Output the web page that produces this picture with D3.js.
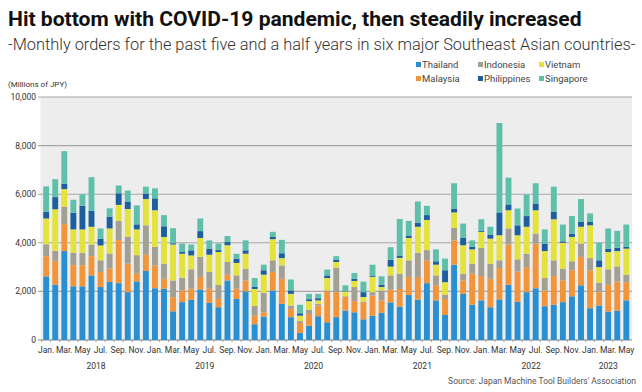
<!DOCTYPE html>
<html><head><meta charset="utf-8">
<script src="https://cdn.jsdelivr.net/npm/d3@7"></script>
<style>
html,body{margin:0;padding:0;background:#fff;}
svg{display:block;font-family:Roboto,"Noto Sans",sans-serif;}
</style></head><body>
<svg id="chart" width="642" height="392"></svg>
<script>
// ---- data (millions of JPY) ----
const categories = [
 "2018-01","2018-02","2018-03","2018-04","2018-05","2018-06","2018-07","2018-08","2018-09","2018-10","2018-11","2018-12",
 "2019-01","2019-02","2019-03","2019-04","2019-05","2019-06","2019-07","2019-08","2019-09","2019-10","2019-11","2019-12",
 "2020-01","2020-02","2020-03","2020-04","2020-05","2020-06","2020-07","2020-08","2020-09","2020-10","2020-11","2020-12",
 "2021-01","2021-02","2021-03","2021-04","2021-05","2021-06","2021-07","2021-08","2021-09","2021-10","2021-11","2021-12",
 "2022-01","2022-02","2022-03","2022-04","2022-05","2022-06","2022-07","2022-08","2022-09","2022-10","2022-11","2022-12",
 "2023-01","2023-02","2023-03","2023-04","2023-05"];
const thailand = [2620,2280,3660,2210,2210,2660,2180,2390,2340,1970,2410,2840, 2130,2110,1180,1560,1650,2080,1530,1350,2450,1690,2000,650, 960,2040,1490,940,290,590,980,730,940,1210,1140,850, 1000,1120,1550,1370,1850,1660,2340,1630,1030,3100,1900,1450, 1630,1350,1670,2270,1580,1970,2130,1390,1450,1560,1800,2250, 1310,1420,1170,1210,1630];
const malaysia = [830,980,1110,870,870,790,620,550,1770,1170,320,670, 940,410,580,480,460,510,580,340,240,420,450,350, 180,760,1030,340,410,480,440,1270,1030,560,460,710, 830,510,520,730,740,930,940,620,660,1000,550,1280, 1000,1170,1290,1660,1240,1030,1840,650,1180,890,1070,1170, 1560,550,1100,1200,750];
const indonesia = [490,410,720,510,510,480,480,620,790,1110,760,1210, 760,620,690,520,800,830,690,580,520,550,480,400, 800,480,550,140,80,180,70,40,1010,30,580,20, 140,410,590,630,690,1000,420,410,170,510,280,410, 1160,620,320,660,500,550,410,510,650,480,370,550, 500,390,640,620,310];
const vietnam = [1060,1710,720,960,960,730,610,1030,660,1140,1060,1080, 1510,1100,1480,990,570,780,710,1350,690,510,620,700, 750,870,300,480,220,350,140,510,230,200,250,190, 630,140,360,650,920,1070,1240,440,520,640,1170,590, 660,1030,1030,750,990,1110,960,1110,1690,1070,1000,690, 1350,640,710,630,1070];
const philippines = [280,500,220,690,970,650,280,490,480,310,210,230, 490,440,50,70,210,280,250,80,130,180,140,100, 180,90,200,140,100,80,90,110,100,20,90,200, 50,90,280,100,100,170,200,140,490,160,300,100, 50,170,940,240,410,440,280,310,310,60,140,200, 140,280,140,140,70];
const singapore = [1040,740,1340,530,480,1390,420,340,320,450,780,280, 410,460,620,350,240,520,340,270,250,200,410,350, 230,210,550,450,350,220,180,240,140,230,240,430, 450,350,520,1500,600,870,380,490,480,1040,590,270, 470,320,3680,1100,690,890,830,580,1030,690,720,940, 350,720,830,690,920];
const seriesNames = ["Thailand","Malaysia","Indonesia","Vietnam","Philippines","Singapore"];
const seriesColors = ["#2a8fd0","#f2943a","#a29f93","#e4e23c","#1c5e9e","#5ebfab"];
const monthNames = ["Jan.","Feb.","Mar.","Apr.","May","Jun.","Jul.","Aug.","Sep.","Oct.","Nov.","Dec."];
const yearLabels = ["2018","2019","2020","2021","2022","2023"];
const yTicks = [0,2000,4000,6000,8000,10000];

// ---- build table ----
const cols = [thailand, malaysia, indonesia, vietnam, philippines, singapore];
const table = categories.map((c,i)=>{
  const row = {cat:c};
  seriesNames.forEach((s,k)=>row[s]=cols[k][i]);
  return row;
});
const stacked = d3.stack().keys(seriesNames)(table);

const svg = d3.select("#chart");
const L=40.5, R=632, T=97, B=340;
const x = d3.scaleBand().domain(categories).range([L,R]).paddingInner(0.35).paddingOuter(0.3);
const y = d3.scaleLinear().domain([0,10000]).range([B,T]);

function fit(sel,w){const cur=sel.node().getComputedTextLength();const fs=parseFloat(sel.attr("font-size"));sel.attr("font-size",fs*w/cur);}

// title
const t1 = svg.append("text").attr("x",8).attr("y",26).attr("font-size",21).attr("font-weight",700).attr("fill","#111").text("Hit bottom with COVID-19 pandemic, then steadily increased");
fit(t1,574);
const t2 = svg.append("text").attr("x",8).attr("y",50).attr("font-size",16).attr("font-weight",300).attr("fill","#333").text("-Monthly orders for the past five and a half years in six major Southeast Asian countries-");
fit(t2,628);

// legend
const legCols=[416,478,539], legRows=[65,79];
const legOrder=[["Thailand",0,0],["Indonesia",1,0],["Vietnam",2,0],["Malaysia",0,1],["Philippines",1,1],["Singapore",2,1]];
legOrder.forEach(([name,c,r])=>{
  const k=seriesNames.indexOf(name);
  svg.append("rect").attr("x",legCols[c]).attr("y",legRows[r]-3).attr("width",5).attr("height",5).attr("fill",seriesColors[k]);
  svg.append("text").attr("x",legCols[c]+6).attr("y",legRows[r]+3.3).attr("font-size",9.5).attr("fill","#444").text(name);
});
svg.append("text").attr("x",8).attr("y",87).attr("font-size",8).attr("fill","#333").text("(Millions of JPY)");

// plot background
svg.append("rect").attr("x",L).attr("y",T).attr("width",R-L).attr("height",B-T).attr("fill","#ededed");
// gridlines
svg.append("g").selectAll("line").data(yTicks).join("line")
  .attr("x1",38).attr("x2",R).attr("y1",d=>y(d)).attr("y2",d=>y(d))
  .attr("stroke",d=>d===0?"#888":"#a8a8a8").attr("stroke-width",1.1);
svg.append("g").selectAll("text").data(yTicks).join("text")
  .attr("x",36).attr("y",d=>y(d)+3).attr("text-anchor","end").attr("font-size",8.5).attr("fill","#333")
  .text(d=>d3.format(",")(d));

// bars
svg.append("g").selectAll("g").data(stacked).join("g").attr("fill",(d,i)=>seriesColors[i])
  .selectAll("rect").data(d=>d).join("rect")
  .attr("x",d=>x(d.data.cat)).attr("width",x.bandwidth())
  .attr("y",d=>y(d[1])).attr("height",d=>Math.max(0,y(d[0])-y(d[1])));

// x ticks
const step=x.step();
svg.append("g").selectAll("line").data(categories).join("line")
  .attr("x1",d=>x(d)-step*0.175).attr("x2",d=>x(d)-step*0.175)
  .attr("y1",B).attr("y2",B+2).attr("stroke","#888").attr("stroke-width",0.8);
svg.append("g").selectAll("text").data(categories.filter((c,i)=>(+c.slice(5))%2===1)).join("text")
  .attr("x",d=>x(d)+x.bandwidth()/2).attr("y",353).attr("text-anchor","middle").attr("font-size",8.5).attr("fill","#333")
  .text(d=>monthNames[+d.slice(5)-1]);
svg.append("g").selectAll("text").data(yearLabels).join("text")
  .attr("x",yr=>{const ms=categories.filter(c=>c.startsWith(yr));return (x(ms[0])+x(ms[ms.length-1]))/2+x.bandwidth()/2;})
  .attr("y",369).attr("text-anchor","middle").attr("font-size",8.5).attr("fill","#333").text(d=>d);

const src=svg.append("text").attr("x",636).attr("y",384).attr("text-anchor","end").attr("font-size",8.5).attr("fill","#555").text("Source: Japan Machine Tool Builders' Association");
</script>
</body></html>
